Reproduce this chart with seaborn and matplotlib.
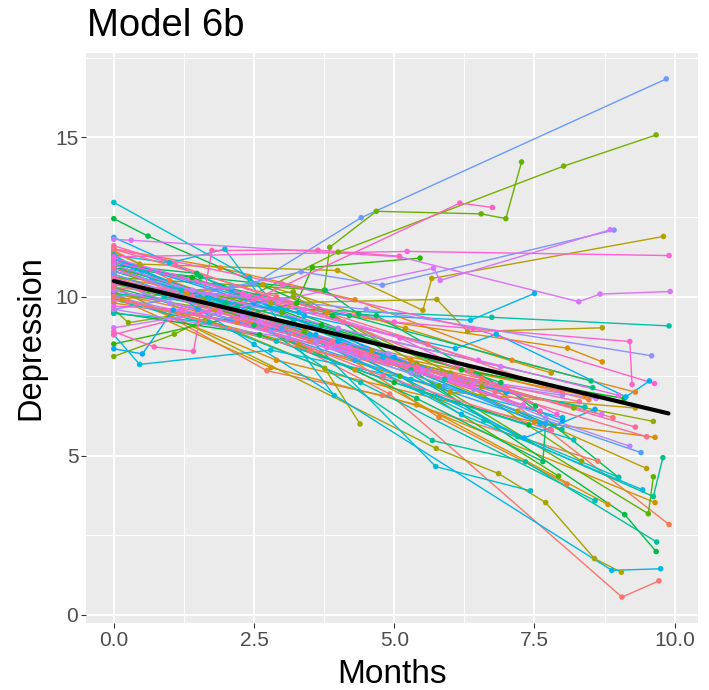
import numpy as np
import pandas as pd
import matplotlib
matplotlib.use("Agg")
import matplotlib.pyplot as plt
import seaborn as sns

# Repeated depression scores per subject (months since baseline)
months = [
    # salmon / red
    [0, 4.92, 9.06, 9.72],
    [0, 2.73, 4.79, 8.63],
    [0, 3.5, 6.56, 9.90],
    [0, 6.38, 8.47],
    [0, 1.0, 3.4, 5.8, 8.08],
    [0, 1.9, 4.3, 7.1, 9.3],
    [0, 2.2, 5.3, 8.4],
    # orange
    [0, 2.9, 7.5, 9.65],
    [0, 3.8, 8.09, 8.71],
    [0, 2.80, 5.4, 9.65],
    [0, 1.3, 4.3, 8.81],
    [0, 2.66, 5.2, 7.8],
    [0, 0.15, 3.3, 6.0, 9.3],
    [0, 1.8, 4.6, 7.2, 9.5],
    # olive
    [0, 0.46, 3.99, 5.51, 5.67, 9.80],
    [0, 2.8, 5.76, 6.31, 8.71],
    [0, 5.75, 6.86, 7.70, 8.57, 9.05],
    [0, 3.76, 4.39],
    [0, 2.5, 6.56, 6.99, 9.62],
    [0, 0.26, 3.2, 6.0, 8.34],
    [0, 1.6, 3.2, 5.4, 8.2],
    # yellow-green / green
    [0, 1.08, 4.0, 8.02, 9.67],
    [0, 3.75, 3.85, 4.68, 6.55, 6.99, 7.27],
    [0, 3.0, 5.8, 9.53, 9.62],
    [0, 3.4, 5.1, 7.93],
    [0, 3.26, 3.54, 5.46],
    [0, 1.4, 3.7, 6.2, 9.1],
    [0, 2.6, 5.0, 7.4],
    # green / teal-green
    [0, 0.61, 3.9, 9.11, 9.67],
    [0, 1.48, 1.55, 4.0, 6.9, 9.0],
    [0, 3.77, 4.37, 4.68, 7.52],
    [0, 2.5, 5.4, 7.65, 7.70],
    [0, 4.2, 8.51],
    [0, 2.0, 8.54],
    [0, 5.3, 7.99],
    # teal
    [0, 4.0, 7.2, 9.62, 9.79],
    [0, 2.2, 5.68, 7.34, 9.68],
    [0, 2.2, 6.74, 9.90],
    [0, 1.7, 4.4, 8.58],
    [0, 0.9, 3.2, 5.9, 8.4],
    [0, 1.2, 3.6, 6.6, 9.0],
    [0, 2.9, 5.5, 8.2],
    # cyan
    [0, 2.42, 5.74, 7.43],
    [0, 0.99, 1.98, 3.93],
    [0, 0.46, 2.80, 5.3, 8.0],
    [0, 3.5, 6.2, 9.43],
    [0, 2.5, 8.88, 9.75],
    [0, 3.3, 6.36, 7.5],
    [0, 2.1, 4.8, 7.6],
    # blue
    [0, 3.4, 6.09, 6.82, 9.13, 9.55],
    [0, 3.6, 7.32, 8.58],
    [0, 0.51, 1.06, 4.0, 7.0],
    [0, 2.5, 5.0, 8.0],
    [0, 1.5, 4.3, 7.7],
    [0, 3.0, 5.9, 9.4],
    [0, 2.5, 4.41, 9.85],
    # purple
    [0, 2.1, 3.34, 4.79, 8.92],
    [0, 1.6, 4.5, 9.59],
    [0, 2.8, 5.3, 8.0],
    [0, 1.0, 3.6, 6.42],
    [0, 2.3, 4.9, 7.7, 9.2],
    [0, 3.1, 6.0, 8.6],
    [0, 1.4, 4.0, 6.9],
    # magenta
    [0, 3.0, 5.70, 5.82, 8.85],
    [0, 0.31, 5.10, 8.29, 8.67, 9.92],
    [0, 2.6, 5.5, 8.70],
    [0, 1.9, 4.2, 7.3],
    [0, 3.4, 6.5, 9.0],
    [0, 1.2, 3.8, 6.4],
    [0, 2.4, 5.1, 7.9],
    # pink
    [0, 5.23, 9.90],
    [0, 2.3, 5.0, 9.2, 9.24],
    [0, 3.0, 6.4, 9.64],
    [0, 2.5, 6.17, 6.75],
    [0, 0.72, 1.42, 1.75, 3.64, 5.09],
    [0, 1.8, 4.4, 7.6],
    [0, 2.7, 5.4, 8.3],
    # pink-red
    [0, 1.1, 4.1, 7.0, 9.3],
    [0, 2.2, 4.8, 7.8],
    [0, 1.4, 3.9, 6.8, 9.5],
    [0, 2.9, 5.6, 8.0],
    [0, 3.5, 6.1, 8.9],
]

depression = [
    [11.45, 6.94, 0.56, 1.07],
    [10.35, 7.67, 6.90, 4.83],
    [10.6, 8.6, 7.43, 2.84],
    [10.1, 7.69, 6.76],
    [10.9, 10.5, 9.0, 6.2, 4.11],
    [11.5, 10.9, 9.9, 8.0, 7.0],
    [9.8, 9.2, 8.0, 6.9],
    [10.1, 8.0, 6.06, 5.58],
    [10.6, 9.5, 8.38, 7.95],
    [10.0, 7.77, 6.6, 3.53],
    [10.8, 10.1, 7.7, 3.47],
    [9.9, 10.38, 9.0, 7.6],
    [10.3, 9.9, 8.5, 7.0, 6.5],
    [10.7, 9.6, 8.3, 6.4, 4.6],
    [11.4, 11.02, 10.82, 9.57, 10.57, 11.89],
    [10.4, 9.8, 9.91, 8.90, 9.02],
    [10.3, 5.23, 4.44, 3.53, 1.77, 1.34],
    [10.5, 7.75, 6.0],
    [10.1, 9.4, 7.17, 6.99, 6.08],
    [9.6, 9.18, 10.0, 7.6, 4.83],
    [10.9, 9.9, 10.15, 7.9, 6.5],
    [8.12, 8.82, 11.4, 14.1, 15.08],
    [10.6, 10.2, 11.55, 12.68, 12.6, 12.45, 14.23],
    [10.9, 9.5, 7.2, 3.18, 4.34],
    [10.4, 8.9, 7.5, 4.36],
    [8.51, 9.79, 10.92, 11.21],
    [11.0, 10.6, 9.1, 7.7, 6.8],
    [9.5, 8.8, 7.3, 5.97],
    [12.45, 11.9, 9.4, 3.15, 1.99],
    [11.0, 10.73, 10.62, 9.0, 7.3, 4.32],
    [10.9, 10.2, 9.45, 9.4, 6.56],
    [10.3, 9.1, 6.8, 4.82, 6.0],
    [11.1, 9.4, 7.35],
    [10.8, 9.8, 7.14],
    [11.0, 7.7, 5.83],
    [10.8, 8.9, 5.6, 3.72, 4.94],
    [11.2, 9.6, 5.48, 4.81, 2.29],
    [10.1, 9.7, 9.35, 9.08],
    [9.47, 9.2, 7.3, 3.59],
    [10.6, 10.0, 9.2, 7.4, 6.53],
    [11.3, 10.2, 8.6, 6.1, 4.32],
    [9.9, 8.6, 7.0, 5.5],
    [12.96, 10.6, 4.66, 3.90],
    [11.3, 11.06, 11.49, 6.89],
    [8.8, 7.87, 8.32, 7.4, 6.2],
    [10.9, 8.8, 6.3, 3.93],
    [11.3, 8.5, 1.40, 1.45],
    [10.4, 9.5, 9.26, 10.1],
    [11.86, 10.2, 8.1, 6.0],
    [11.2, 9.4, 8.37, 8.82, 6.85, 7.35],
    [11.1, 8.8, 5.56, 6.46],
    [8.36, 8.2, 9.58, 8.6, 7.0],
    [11.17, 9.8, 8.1, 6.1],
    [10.2, 9.6, 8.0, 6.02],
    [10.7, 9.0, 7.2, 5.1],
    [9.6, 10.4, 12.48, 16.84],
    [10.0, 10.3, 10.78, 10.36, 12.09],
    [10.8, 10.1, 9.6, 8.14],
    [10.0, 8.9, 7.6, 6.9],
    [10.5, 9.8, 8.6, 7.09],
    [10.9, 9.4, 8.2, 6.2, 5.3],
    [9.6, 8.7, 7.5, 6.8],
    [11.0, 10.2, 9.0, 7.8],
    [9.02, 9.9, 10.89, 10.51, 12.1],
    [11.8, 11.77, 11.25, 9.84, 10.08, 10.16],
    [10.2, 9.2, 7.7, 6.30],
    [10.6, 9.5, 8.4, 6.6],
    [11.2, 9.6, 8.0, 6.9],
    [9.7, 9.6, 8.4, 7.2],
    [10.4, 10.0, 8.7, 6.3],
    [11.25, 11.42, 11.29],
    [11.1, 10.1, 9.2, 8.59, 7.24],
    [11.5, 10.4, 9.0, 7.27],
    [8.81, 9.9, 12.94, 12.8],
    [8.9, 8.42, 8.28, 11.45, 11.46, 11.27],
    [10.6, 9.7, 8.2, 6.4],
    [9.9, 9.0, 7.8, 6.7],
    [11.6, 11.0, 9.2, 7.1, 5.9],
    [10.9, 9.3, 7.5, 5.8],
    [10.3, 10.0, 8.6, 7.0, 5.6],
    [11.49, 10.0, 8.5, 7.0],
    [10.0, 8.3, 7.5, 6.2],
]

# Population-average trajectory from the fitted model
fit_months = [0.0, 9.89]
fit_depression = [10.49, 6.33]

x_breaks = [0, 2.5, 5, 7.5, 10]
x_labels = ["0.0", "2.5", "5.0", "7.5", "10.0"]
y_breaks = [0, 5, 10, 15]
y_labels = ["0", "5", "10", "15"]


def hcl_hex(h, c=100.0, l=65.0):
    """Polar CIE-Luv (HCL) colour to an sRGB hex string."""
    hr = np.deg2rad(h)
    U, V = c * np.cos(hr), c * np.sin(hr)
    Xn, Yn, Zn = 95.047, 100.0, 108.883
    den = Xn + 15 * Yn + 3 * Zn
    un, vn = 4 * Xn / den, 9 * Yn / den
    Y = Yn * ((l + 16) / 116) ** 3 if l > 8 else Yn * l / 903.3
    u = U / (13 * l) + un
    v = V / (13 * l) + vn
    X = Y * 9 * u / (4 * v)
    Z = Y * (12 - 3 * u - 20 * v) / (4 * v)
    M = np.array([[3.2404542, -1.5371385, -0.4985314],
                  [-0.9692660, 1.8760108, 0.0415560],
                  [0.0556434, -0.2040259, 1.0572252]])
    lin = M @ (np.array([X, Y, Z]) / 100.0)
    rgb = np.where(lin <= 0.0031308, 12.92 * lin,
                   1.055 * np.clip(lin, 0, None) ** (1 / 2.4) - 0.055)
    rgb = np.clip(rgb, 0, 1)
    return "#%02x%02x%02x" % tuple(int(round(x * 255)) for x in rgb)


def hue_pal(n):
    hues = np.linspace(15, 375, n + 1)[:-1]
    return [hcl_hex(h) for h in hues]


rows = []
for i, (ms, ds) in enumerate(zip(months, depression)):
    for m, d in zip(ms, ds):
        rows.append((f"S{i + 1:03d}", m, d))
df = pd.DataFrame(rows, columns=["subject", "months", "depression"])
subjects = list(dict.fromkeys(df["subject"]))
palette = dict(zip(subjects, hue_pal(len(subjects))))

sns.set_theme(style="darkgrid")
plt.rcParams["font.family"] = ["Liberation Sans", "DejaVu Sans"]

fig = plt.figure(figsize=(7.09, 6.90), dpi=100)
ax = fig.add_axes([86 / 709, 67 / 690, 612 / 709, 570 / 690])
ax.set_facecolor("#EBEBEB")

sns.lineplot(data=df, x="months", y="depression", hue="subject",
             hue_order=subjects, palette=palette, estimator=None,
             sort=True, legend=False, linewidth=1.0, ax=ax, zorder=2)
sns.scatterplot(data=df, x="months", y="depression", hue="subject",
                hue_order=subjects, palette=palette, legend=False,
                s=16, linewidth=0, ax=ax, zorder=3)
sns.lineplot(x=fit_months, y=fit_depression, color="black",
             linewidth=3.0, ax=ax, zorder=4)

# ggplot-like 5% expansion of the data range
xmin, xmax = df["months"].min(), df["months"].max()
ymin, ymax = df["depression"].min(), df["depression"].max()
xpad, ypad = 0.05 * (xmax - xmin), 0.05 * (ymax - ymin)
ax.set_xlim(xmin - xpad, xmax + xpad)
ax.set_ylim(ymin - ypad, ymax + ypad)

ax.set_xticks(x_breaks)
ax.set_xticklabels(x_labels)
ax.set_yticks(y_breaks)
ax.set_yticklabels(y_labels)
ax.set_xticks([1.25, 3.75, 6.25, 8.75], minor=True)
ax.set_yticks([2.5, 7.5, 12.5, 17.5], minor=True)
ax.grid(which="major", color="white", linewidth=1.4)
ax.grid(which="minor", color="white", linewidth=0.7)
ax.set_axisbelow(True)
for s in ax.spines.values():
    s.set_visible(False)
ax.tick_params(which="major", length=3.5, width=0.8, color="#333333",
               labelsize=15, labelcolor="#4D4D4D", pad=2,
               bottom=True, left=True)
ax.tick_params(which="minor", length=0)
ax.set_xlabel("")
ax.set_ylabel("")

fig.text(87 / 709, 1 - 35.7 / 690, "Model 6b", fontsize=27.5,
         ha="left", va="baseline", color="black")
fig.text(392 / 709, 1 - 683 / 690, "Months", fontsize=24,
         ha="center", va="baseline", color="black")
fig.text(31 / 709, 1 - 338 / 690, "Depression", fontsize=23.5,
         ha="center", va="center", rotation=90, color="black")

fig.savefig("out.png", dpi=100)
